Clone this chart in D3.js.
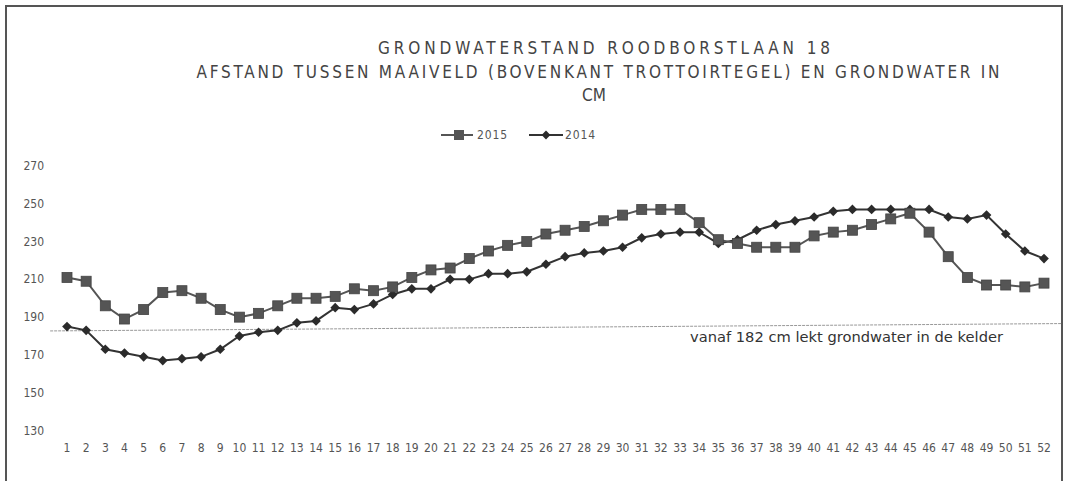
<!DOCTYPE html>
<html>
<head>
<meta charset="utf-8">
<script src="https://cdn.jsdelivr.net/npm/d3@7"></script>
<style>
  body { margin: 0; background: #fff; }
  svg { display: block; }
</style>
</head>
<body>
<div id="chart-container"></div>
<script>
// Weeks 1..52
const weeks = d3.range(1, 53);

// Groundwater depth in cm
const values2015 = [211, 209, 196, 189, 194, 203, 204, 200, 194, 190,
  192, 196, 200, 200, 201, 205, 204, 206, 211, 215,
  216, 221, 225, 228, 230, 234, 236, 238, 241, 244,
  247, 247, 247, 240, 231, 229, 227, 227, 227, 233,
  235, 236, 239, 242, 245, 235, 222, 211, 207, 207,
  206, 208];

const values2014 = [185, 183, 173, 171, 169, 167, 168, 169, 173, 180,
  182, 183, 187, 188, 195, 194, 197, 202, 205, 205,
  210, 210, 213, 213, 214, 218, 222, 224, 225, 227,
  232, 234, 235, 235, 229, 231, 236, 239, 241, 243,
  246, 247, 247, 247, 247, 247, 243, 242, 244, 234,
  225, 221];

const yTicks = [130, 150, 170, 190, 210, 230, 250, 270];

// the "182 cm" line, slightly skewed in the scan
const threshold = [{ week: 0.12, value: 182.7 }, { week: 52.9, value: 186.6 }];
const thresholdLabel = "vanaf 182 cm lekt grondwater in de kelder";

const titleLines = [
  "GRONDWATERSTAND ROODBORSTLAAN 18",
  "AFSTAND TUSSEN MAAIVELD (BOVENKANT TROTTOIRTEGEL) EN GRONDWATER IN",
  "CM"
];

const width = 1065;
const height = 481;

const x = d3.scaleLinear().domain([1, 52]).range([67, 1044]);
const y = d3.scaleLinear().domain([130, 270]).range([430.5, 166]);

const svg = d3.select("#chart-container").append("svg")
    .attr("width", width)
    .attr("height", height);

// frame
svg.append("path")
    .attr("d", `M6,${height} V6 H1062 V${height}`)
    .attr("fill", "none")
    .attr("stroke", "#555")
    .attr("stroke-width", 2);

const condensed = "'DejaVu Sans Condensed', 'Liberation Sans Narrow', 'DejaVu Sans', sans-serif";

// title
const titlePos = [
  { cx: 604, y: 54, len: 452 },
  { cx: 598, y: 78, len: 803 },
  { cx: 594, y: 101, len: null }
];
svg.append("g")
  .selectAll("text")
  .data(titleLines)
  .join("text")
    .attr("x", (d, i) => titlePos[i].cx)
    .attr("y", (d, i) => titlePos[i].y)
    .attr("text-anchor", "middle")
    .attr("textLength", (d, i) => titlePos[i].len)
    .attr("lengthAdjust", "spacing")
    .style("font", `17px ${condensed}`)
    .style("fill", "#444")
    .text(d => d);

// y axis labels (no axis line)
svg.append("g")
  .selectAll("text")
  .data(yTicks)
  .join("text")
    .attr("x", 44)
    .attr("y", d => y(d) + 4)
    .attr("text-anchor", "end")
    .style("font", `12px ${condensed}`)
    .style("fill", "#555")
    .text(d => d);

// x axis labels
svg.append("g")
  .selectAll("text")
  .data(weeks)
  .join("text")
    .attr("x", d => x(d))
    .attr("y", 452)
    .attr("text-anchor", "middle")
    .style("font", `12px ${condensed}`)
    .style("fill", "#555")
    .text(d => d);

// threshold line
svg.append("line")
    .attr("x1", x(threshold[0].week))
    .attr("y1", y(threshold[0].value))
    .attr("x2", x(threshold[1].week))
    .attr("y2", y(threshold[1].value))
    .attr("stroke", "#999")
    .attr("stroke-width", 1)
    .attr("stroke-dasharray", "3,1");

svg.append("text")
    .attr("x", 690)
    .attr("y", 342)
    .attr("textLength", 313)
    .attr("lengthAdjust", "spacingAndGlyphs")
    .style("font", `14px 'DejaVu Sans', Verdana, sans-serif`)
    .style("fill", "#333")
    .text(thresholdLabel);

const line = d3.line()
    .x((d, i) => x(weeks[i]))
    .y(d => y(d));

// 2014 series (diamonds)
svg.append("path")
    .datum(values2014)
    .attr("fill", "none")
    .attr("stroke", "#333")
    .attr("stroke-width", 2)
    .attr("d", line);

svg.append("g")
  .selectAll("path")
  .data(values2014)
  .join("path")
    .attr("d", d3.symbol(d3.symbolDiamond2, 60))
    .attr("transform", (d, i) => `translate(${x(weeks[i])},${y(d)})`)
    .attr("fill", "#2b2b2b");

// 2015 series (squares)
svg.append("path")
    .datum(values2015)
    .attr("fill", "none")
    .attr("stroke", "#555")
    .attr("stroke-width", 2)
    .attr("d", line);

svg.append("g")
  .selectAll("rect")
  .data(values2015)
  .join("rect")
    .attr("x", (d, i) => x(weeks[i]) - 5)
    .attr("y", d => y(d) - 5)
    .attr("width", 10)
    .attr("height", 10)
    .attr("fill", "#555")
    .attr("stroke", "#444")
    .attr("stroke-width", 0.8);

// legend
const legend = svg.append("g").attr("transform", "translate(0,135)");
legend.append("line").attr("x1", 441).attr("x2", 473).attr("stroke", "#555").attr("stroke-width", 2);
legend.append("rect").attr("x", 454).attr("y", -5).attr("width", 10).attr("height", 10).attr("fill", "#555");
legend.append("text").attr("x", 477).attr("y", 4)
    .attr("textLength", 30)
    .style("font", `12px ${condensed}`).style("fill", "#555").text("2015");
legend.append("line").attr("x1", 529).attr("x2", 563).attr("stroke", "#333").attr("stroke-width", 2);
legend.append("path").attr("d", d3.symbol(d3.symbolDiamond2, 50)).attr("transform", "translate(546,0)").attr("fill", "#2b2b2b");
legend.append("text").attr("x", 565).attr("y", 4)
    .attr("textLength", 30)
    .style("font", `12px ${condensed}`).style("fill", "#555").text("2014");
</script>
</body>
</html>
